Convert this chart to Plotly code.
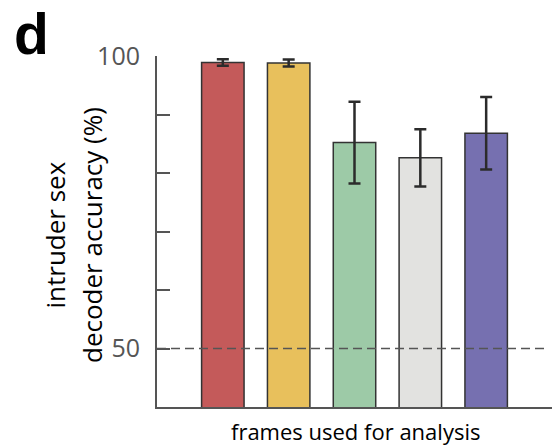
import plotly.graph_objects as go

categories = [0, 1, 2, 3, 4]
accuracy = [98.9, 98.8, 85.2, 82.6, 86.8]
err = [0.55, 0.6, 7.0, 4.9, 6.2]
colors = ["#C45A5A", "#E8C05C", "#9DCAA7", "#E2E2E0", "#7670B0"]
ytick_vals = [50, 60, 70, 80, 90, 100]
ytick_text = ["50", "", "", "", "", "100"]
ytitle_lines = ["intruder sex", "decoder accuracy (%)"]
xtitle = "frames used for analysis"

FONT = "Open Sans"
W, H = 557, 445
L, R, T, B = 157, 5, 56, 38
PW, PH = W - L - R, H - T - B


def px(x):
    return (x - L) / PW


def py(y):
    return (H - B - y) / PH


fig = go.Figure()
fig.add_trace(go.Bar(
    x=categories, y=accuracy, width=0.645,
    marker=dict(color=colors, line=dict(color="#333333", width=1.5)),
    error_y=dict(type="data", array=err, visible=True, color="#2b2b2b", thickness=2.5, width=6),
    hoverinfo="skip",
))

fig.add_shape(type="line", xref="paper", yref="y", x0=0, x1=0.99, y0=50, y1=50,
              line=dict(color="#555555", width=1.5, dash="9px,5px"))

annotations = [
    dict(text="<b>d</b>", xref="paper", yref="paper", x=px(31), y=py(0),
         xanchor="center", yanchor="top", showarrow=False,
         font=dict(size=57, family="Liberation Sans", color="#000000")),
    dict(text=ytitle_lines[0], xref="paper", yref="paper", x=px(54.5), y=py(235),
         xanchor="center", yanchor="middle", textangle=-90, showarrow=False,
         font=dict(size=26, family=FONT, color="#000000")),
    dict(text=ytitle_lines[1], xref="paper", yref="paper", x=px(92), y=py(235),
         xanchor="center", yanchor="middle", textangle=-90, showarrow=False,
         font=dict(size=26, family=FONT, color="#000000")),
    dict(text=xtitle, xref="paper", yref="paper", x=px(355), y=py(431),
         xanchor="center", yanchor="middle", showarrow=False,
         font=dict(size=22, family=FONT, color="#000000")),
]

fig.update_layout(
    width=W, height=H,
    margin=dict(l=L, r=R, t=T, b=B, autoexpand=False),
    plot_bgcolor="white", paper_bgcolor="white",
    showlegend=False,
    font=dict(family=FONT, color="#000000"),
    xaxis=dict(range=[-1, 5], tickvals=[5], ticks="inside", ticklen=7, tickwidth=2,
               tickcolor="#555555", showticklabels=False, showgrid=False, zeroline=False,
               showline=True, linecolor="#555555", linewidth=2, automargin=False),
    yaxis=dict(range=[40, 100], tickvals=ytick_vals, ticktext=ytick_text, ticks="inside",
               ticklen=13, tickwidth=2, tickcolor="#555555", showgrid=False, zeroline=False,
               showline=True, linecolor="#555555", linewidth=2, automargin=False,
               ticklabelstandoff=10,
               tickfont=dict(size=25, color="#555555", family=FONT)),
    annotations=annotations,
)

fig.write_html("out.html", config={"displayModeBar": False},
               post_script="document.body.style.margin='0';document.body.style.overflow='hidden';")
